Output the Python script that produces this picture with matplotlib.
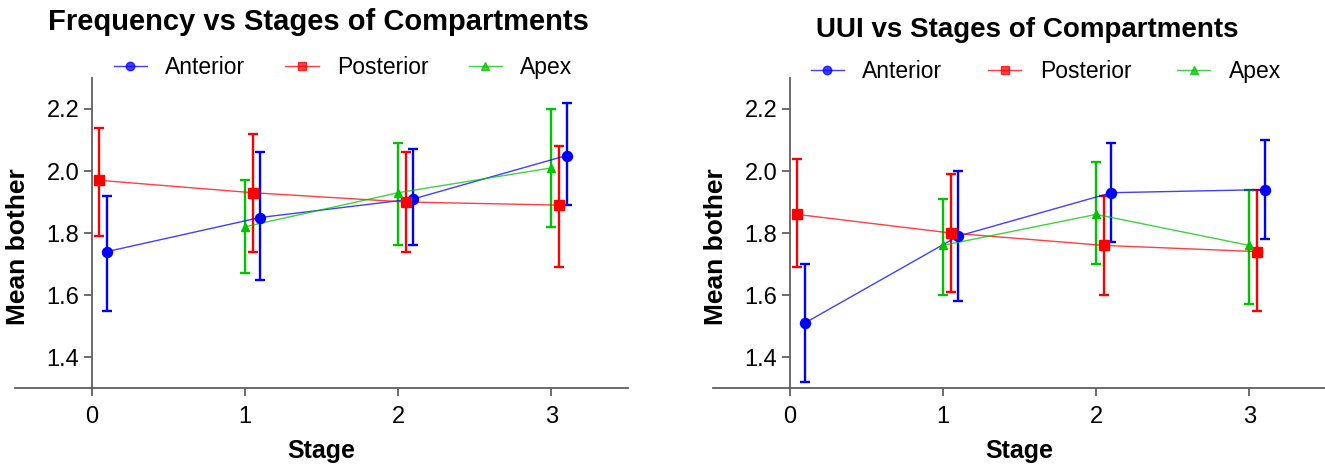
import matplotlib
matplotlib.use("Agg")
import matplotlib.pyplot as plt

FONT = ['Liberation Sans', 'DejaVu Sans']

stages = [0, 1, 2, 3]
series = ["Anterior", "Posterior", "Apex"]
offsets = {"Anterior": 0.1, "Posterior": 0.05, "Apex": 0.0}
colors = {"Anterior": "#0000FF", "Posterior": "#FF0000", "Apex": "#00C400"}
markers = {"Anterior": "o", "Posterior": "s", "Apex": "^"}
msizes = {"Anterior": 7.2, "Posterior": 7.0, "Apex": 6.3}

# Frequency chart
freq_stages = {"Anterior": [0, 1, 2, 3], "Posterior": [0, 1, 2, 3], "Apex": [1, 2, 3]}
freq_mean = {"Anterior": [1.74, 1.85, 1.91, 2.05],
             "Posterior": [1.97, 1.93, 1.90, 1.89],
             "Apex": [1.82, 1.93, 2.01]}
freq_low = {"Anterior": [1.55, 1.65, 1.76, 1.89],
            "Posterior": [1.79, 1.74, 1.74, 1.69],
            "Apex": [1.67, 1.76, 1.82]}
freq_high = {"Anterior": [1.92, 2.06, 2.07, 2.22],
             "Posterior": [2.14, 2.12, 2.06, 2.08],
             "Apex": [1.97, 2.09, 2.20]}

# UUI chart
uui_stages = {"Anterior": [0, 1, 2, 3], "Posterior": [0, 1, 2, 3], "Apex": [1, 2, 3]}
uui_mean = {"Anterior": [1.51, 1.79, 1.93, 1.94],
            "Posterior": [1.86, 1.80, 1.76, 1.74],
            "Apex": [1.76, 1.86, 1.76]}
uui_low = {"Anterior": [1.32, 1.58, 1.77, 1.78],
           "Posterior": [1.69, 1.61, 1.60, 1.55],
           "Apex": [1.60, 1.70, 1.57]}
uui_high = {"Anterior": [1.70, 2.00, 2.09, 2.10],
            "Posterior": [2.04, 1.99, 1.92, 1.94],
            "Apex": [1.91, 2.03, 1.94]}

yticks = [1.4, 1.6, 1.8, 2.0, 2.2]
ytick_labels = ["1.4", "1.6", "1.8", "2.0", "2.2"]

fig = plt.figure(figsize=(13.25, 4.67), dpi=100)
W, H = 1325, 467

def px_axes(x0, x1, ytop, ybot):
    return fig.add_axes([x0 / W, 1 - ybot / H, (x1 - x0) / W, (ybot - ytop) / H])

ax1 = px_axes(15, 628, 78, 388)
ax2 = px_axes(713, 1326, 78, 388)

AXC = '#606060'

def draw(ax, st, mean, low, high, title, title_x, title_y, title_size,
         legend_x, legend_y, colsp):
    handles = []
    for s in series:
        xs = [x + offsets[s] for x in st[s]]
        m = mean[s]
        yerr = [[mi - lo for mi, lo in zip(m, low[s])], [hi - mi for mi, hi in zip(m, high[s])]]
        ax.errorbar(xs, m, yerr=yerr, fmt='none', ecolor=colors[s], elinewidth=1.7,
                    capsize=3.8, capthick=1.7, zorder=2)
        ax.plot(xs, m, color=colors[s], lw=1.0, alpha=0.75, zorder=3)
        ax.plot(xs, m, ls='none', marker=markers[s], ms=msizes[s], color=colors[s], zorder=4)
        h, = ax.plot([], [], color=colors[s], lw=1.0, alpha=0.75, marker=markers[s],
                     ms=msizes[s] * 0.85, mfc=colors[s], mec=colors[s])
        handles.append(h)
    ax.set_xlim(-0.5, 3.5)
    ax.set_ylim(1.3, 2.3)
    ax.spines['top'].set_visible(False)
    ax.spines['right'].set_visible(False)
    ax.spines['left'].set_position(('data', 0))
    for sp in ('left', 'bottom'):
        ax.spines[sp].set_color(AXC)
        ax.spines[sp].set_linewidth(1.3)
    ax.set_xticks(stages)
    ax.set_xticklabels([str(s) for s in stages], fontfamily=FONT, fontsize=17)
    ax.set_yticks(yticks)
    ax.set_yticklabels(ytick_labels, fontfamily=FONT, fontsize=17)
    ax.tick_params(axis='both', color=AXC, length=6, width=1.3, pad=3)
    ax.tick_params(axis='x', pad=7)
    ax.set_xlabel("Stage", fontfamily=FONT, fontweight='bold', fontsize=18, labelpad=8)
    fig.text(title_x / W, 1 - title_y / H, title, ha='center', va='center',
             fontfamily=FONT, fontweight='bold', fontsize=title_size)
    ax.legend(handles, series, loc='center', bbox_to_anchor=(legend_x, legend_y),
              ncol=3, frameon=False, prop={'family': FONT, 'size': 16.5},
              handlelength=1.45, columnspacing=colsp, handletextpad=0.8,
              borderaxespad=0, borderpad=0)
    return ax

draw(ax1, freq_stages, freq_mean, freq_low, freq_high,
     "Frequency vs Stages of Compartments", 318, 22, 21, 0.535, 1.035, 1.75)
draw(ax2, uui_stages, uui_mean, uui_low, uui_high,
     "UUI vs Stages of Compartments", 1027, 30, 20, 0.543, 1.02, 2.0)

for xpx in (18, 716):
    fig.text(xpx / W, 1 - 247 / H, "Mean bother", rotation=90, ha='center', va='center',
             fontfamily=FONT, fontweight='bold', fontsize=19)

fig.savefig("out.png", dpi=100)
